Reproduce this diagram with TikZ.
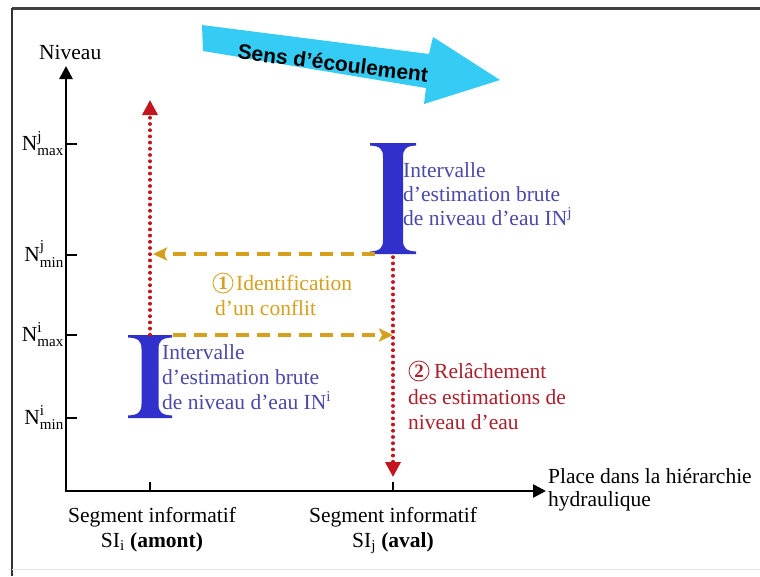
\documentclass[tikz,border=0pt]{standalone}
\usepackage{fontspec}
\usepackage{amsmath}
\setmainfont{Liberation Serif}
\newfontfamily\arialfont{Liberation Sans}
\usetikzlibrary{arrows.meta}
\definecolor{ibeam}{RGB}{48,48,204}
\definecolor{bluetext}{RGB}{74,74,168}
\definecolor{gold}{RGB}{212,160,30}
\definecolor{redtext}{RGB}{170,32,44}
\definecolor{reddot}{RGB}{196,20,30}
\definecolor{flow}{RGB}{52,204,244}
\newcommand{\ibeamshape}[5]{% center, top, bottom, half bar, half stem
  \fill[ibeam] (#1-#4,#2) -- (#1+#4,#2) -- (#1+#4,#2+2.5)
   .. controls (#1+#5+3,#2+3) and (#1+#5,#2+6) .. (#1+#5,#2+14)
   -- (#1+#5,#3-14)
   .. controls (#1+#5,#3-6) and (#1+#5+3,#3-3) .. (#1+#4,#3-2.5)
   -- (#1+#4,#3) -- (#1-#4,#3) -- (#1-#4,#3-2.5)
   .. controls (#1-#5-3,#3-3) and (#1-#5,#3-6) .. (#1-#5,#3-14)
   -- (#1-#5,#2+14)
   .. controls (#1-#5,#2+6) and (#1-#5-3,#2+3) .. (#1-#4,#2+2.5) -- cycle;}
\begin{document}
\begin{tikzpicture}[x=1pt,y=-1pt,
  axis/.style={line width=2.6pt,black},
  reddots/.style={draw=reddot,line width=3.4pt,dash pattern=on 0.4pt off 5.8pt,line cap=round,
     -{Triangle[length=15pt,width=15pt,fill=reddot,color=reddot]}},
  golddash/.style={draw=gold,line width=3.2pt,dash pattern=on 13pt off 8pt,
     -{Stealth[length=14pt,width=13pt,inset=3pt,fill=gold,color=gold]}},
  lbl/.style={font=\fontsize{21.5}{25}\selectfont,inner sep=0pt},
  bluelbl/.style={lbl,text=bluetext,anchor=base west},
  goldlbl/.style={lbl,text=gold,anchor=base west},
  redlbl/.style={lbl,text=redtext,anchor=base west},
  circnum/.style={circle,draw,line width=0.8pt,inner sep=0pt,minimum size=20pt,
     font=\fontsize{19}{19}\selectfont\bfseries}]
\useasboundingbox (0,0) rectangle (760,576);
\fill[white] (0,0) rectangle (760,576);
% frame
\draw[line width=3pt,black!75] (12,8) -- (760,8);
\draw[line width=2pt,black!80] (12,8) -- (12,576);
\draw[line width=1pt,black!10] (12,569) -- (760,569);

% flow arrow
\fill[flow] (202,25) -- (429,54) -- (433,37) -- (500,80) -- (424,104) -- (426,88) -- (203,51) -- cycle;
\node[rotate=-7,font=\arialfont\bfseries\fontsize{21}{21}\selectfont,inner sep=0pt] (flowtxt) at (333,63) {Sens d’écoulement};

% axes
\coordinate (O) at (66,491);
\coordinate (ytip) at (66,66);
\coordinate (xtip) at (546,491);
\draw[axis,-{Triangle[length=13pt,width=13pt]}] (66,492.3) -- (ytip);
\draw[axis,-{Triangle[length=13pt,width=13pt]}] (64.7,491) -- (xtip);
\node[lbl,anchor=base west] (niveau) at (39,59) {Niveau};
\node[lbl,anchor=base west] (place1) at (548,483) {Place dans la hiérarchie};
\node[lbl,anchor=base west] (place2) at (548,506) {hydraulique};

% y ticks
\foreach \yy in {144,255,335,418} {\draw[axis] (65,\yy) -- (77,\yy);}
\node[lbl,anchor=base east] (njmax) at (64,150) {$\text{N}^{\text{j}}_{\text{max}}$};
\node[lbl,anchor=base east] (njmin) at (64,261) {$\text{N}^{\text{j}}_{\text{min}}$};
\node[lbl,anchor=base east] (nimax) at (64,341) {$\text{N}^{\text{i}}_{\text{max}}$};
\node[lbl,anchor=base east] (nimin) at (64,424) {$\text{N}^{\text{i}}_{\text{min}}$};

% x ticks
\foreach \xx in {150,393} {\draw[axis] (\xx,492) -- (\xx,482);}
\node[lbl,anchor=base] (seg1) at (152,522) {Segment informatif};
\node[lbl,anchor=base] (si1) at (152,547) {SI\textsubscript{i} \textbf{(amont)}};
\node[lbl,anchor=base] (seg2) at (393,522) {Segment informatif};
\node[lbl,anchor=base] (si2) at (393,547) {SI\textsubscript{j} \textbf{(aval)}};

% I-beams
\ibeamshape{150}{335}{418}{22}{8.5}
\ibeamshape{393}{143}{254}{23}{10}

\coordinate (iTop) at (150,335);
\coordinate (upTip) at (150,100);
\coordinate (jBot) at (393,257);
\coordinate (downTip) at (393,477);
\coordinate (jFoot) at (375,254);
\coordinate (leftTip) at (153,254);
\coordinate (iBar) at (173,335);
\coordinate (rightTip) at (393,335);

\draw[reddots] (iTop) -- (upTip);
\draw[reddots] (jBot) -- (downTip);
\draw[golddash] (jFoot) -- (leftTip);
\draw[golddash] (iBar) -- (rightTip);

% blue texts
\node[bluelbl] (bj1) at (403,177) {Intervalle};
\node[bluelbl] (bj2) at (403,201) {d’estimation brute};
\node[bluelbl] (bj3) at (403,225) {de niveau d’eau IN\textsuperscript{j}};
\node[bluelbl] (bi1) at (162,359) {Intervalle};
\node[bluelbl] (bi2) at (162,384) {d’estimation brute};
\node[bluelbl] (bi3) at (162,409) {de niveau d’eau IN\textsuperscript{i}};

% gold texts
\node[circnum,draw=gold,text=gold] (c1) at (223,283) {1};
\node[goldlbl] (g1) at (236,290) {Identification};
\node[goldlbl] (g2) at (215,315) {d’un conflit};

% red texts
\node[circnum,draw=redtext,text=redtext] (c2) at (419,371) {2};
\node[redlbl] (r1) at (434,378) {Relâchement};
\node[redlbl] (r2) at (408,404) {des estimations de};
\node[redlbl] (r3) at (408,429) {niveau d’eau};
\end{tikzpicture}
\end{document}
